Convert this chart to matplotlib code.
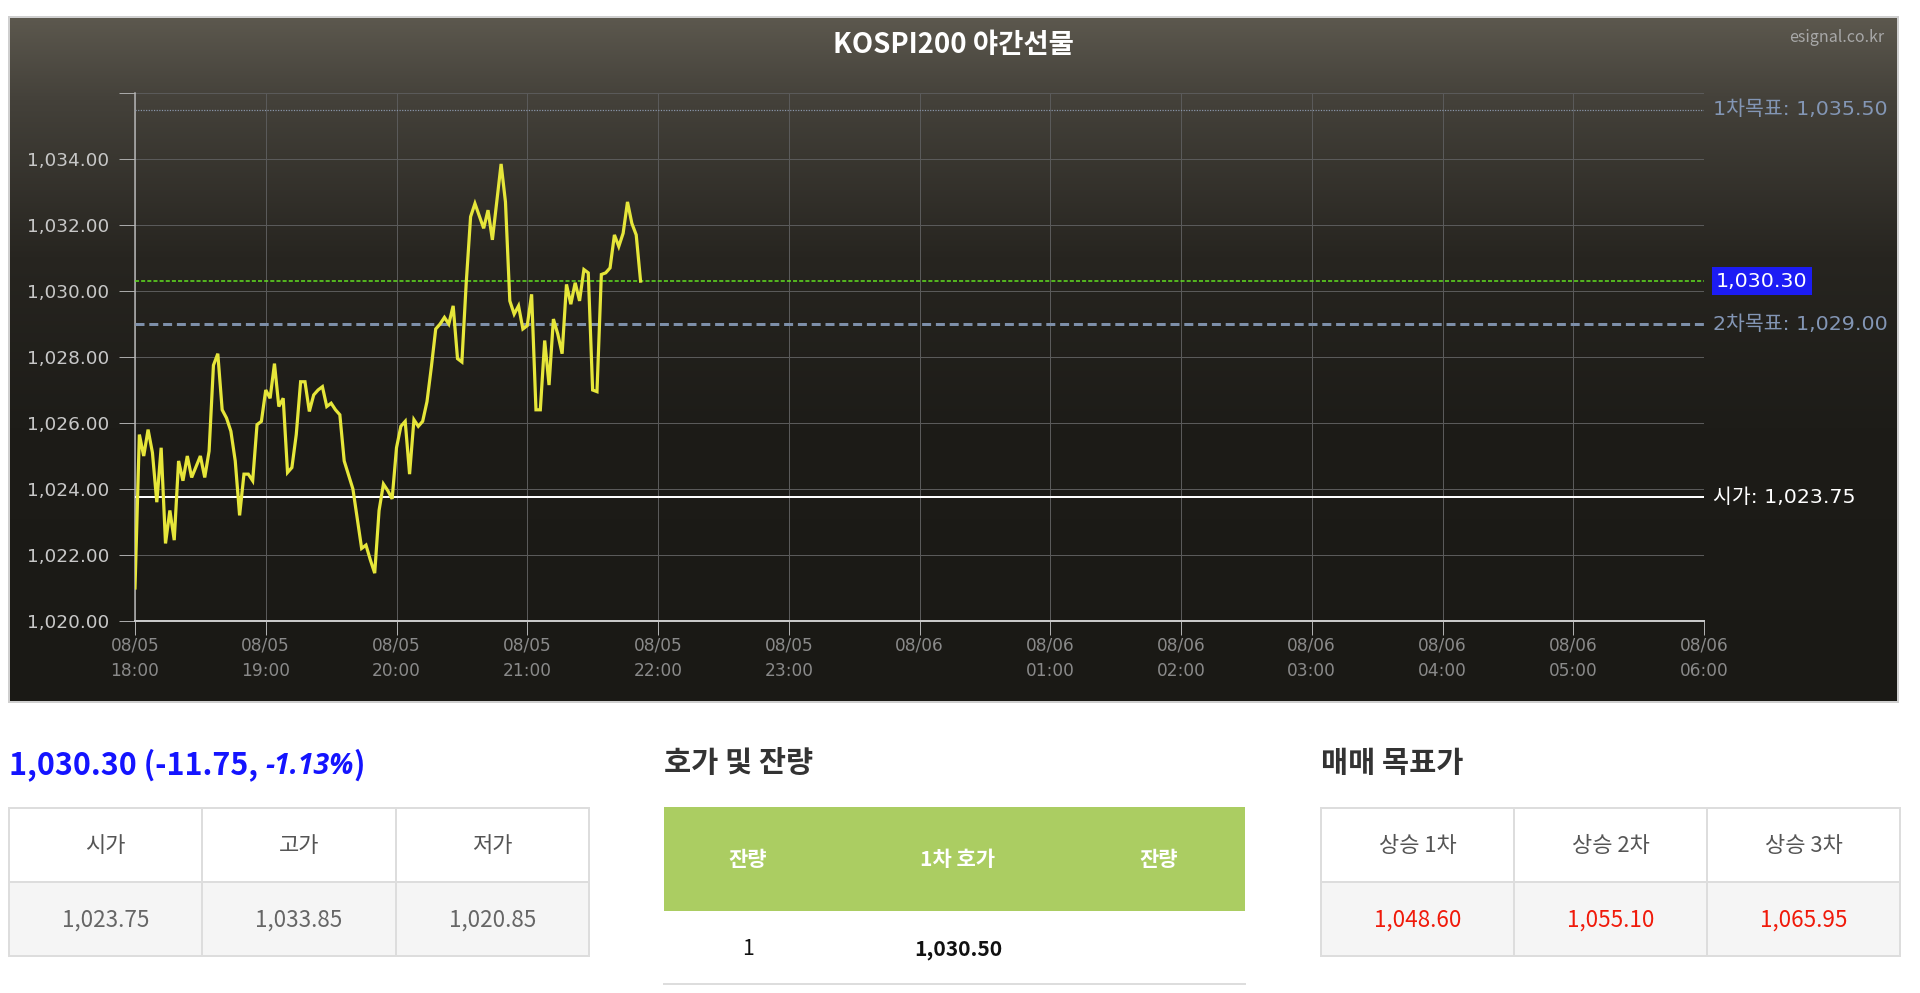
import numpy as np
import matplotlib
matplotlib.use("Agg")
import matplotlib.pyplot as plt
from matplotlib.patches import Rectangle
from matplotlib.transforms import blended_transform_factory
from matplotlib import font_manager as fm

plt.rcParams['font.family'] = ['DejaVu Sans', 'Noto Sans CJK KR']

# ---------------- data ----------------
title = "KOSPI200 야간선물"
source = "esignal.co.kr"

times = ["18:00", "18:02", "18:04", "18:06", "18:08", "18:10", "18:12", "18:14", "18:16", "18:18",
         "18:20", "18:22", "18:24", "18:26", "18:30", "18:32", "18:34", "18:36", "18:38", "18:40",
         "18:42", "18:44", "18:46", "18:48", "18:50", "18:52", "18:54", "18:56", "18:58", "19:00",
         "19:02", "19:04", "19:06", "19:08", "19:10", "19:12", "19:14", "19:16", "19:18", "19:20",
         "19:22", "19:24", "19:26", "19:28", "19:30", "19:32", "19:34", "19:36", "19:40", "19:42",
         "19:44", "19:46", "19:48", "19:50", "19:52", "19:54", "19:56", "19:58", "20:00", "20:02",
         "20:04", "20:06", "20:08", "20:10", "20:12", "20:14", "20:16", "20:18", "20:20", "20:22",
         "20:24", "20:26", "20:28", "20:30", "20:32", "20:34", "20:36", "20:40", "20:42", "20:44",
         "20:48", "20:50", "20:52", "20:54", "20:56", "20:58", "21:00", "21:02", "21:04", "21:06",
         "21:08", "21:10", "21:12", "21:14", "21:16", "21:18", "21:20", "21:22", "21:24", "21:26",
         "21:28", "21:30", "21:32", "21:34", "21:36", "21:38", "21:40", "21:42", "21:44", "21:46",
         "21:48", "21:50", "21:52"]

prices = [1021.00, 1025.65, 1025.00, 1025.80, 1025.10, 1023.60, 1025.25, 1022.35, 1023.35, 1022.45,
          1024.85, 1024.25, 1025.00, 1024.35, 1025.00, 1024.35, 1025.15, 1027.75, 1028.10, 1026.40,
          1026.15, 1025.75, 1024.85, 1023.20, 1024.45, 1024.45, 1024.25, 1025.95, 1026.05, 1027.00,
          1026.75, 1027.80, 1026.50, 1026.75, 1024.50, 1024.65, 1025.65, 1027.25, 1027.25, 1026.35,
          1026.85, 1027.00, 1027.10, 1026.50, 1026.60, 1026.40, 1026.25, 1024.85, 1024.00, 1023.10,
          1022.20, 1022.30, 1021.85, 1021.45, 1023.35, 1024.15, 1023.95, 1023.70, 1025.25, 1025.90,
          1026.05, 1024.45, 1026.10, 1025.90, 1026.05, 1026.65, 1027.70, 1028.85, 1029.00, 1029.20,
          1029.00, 1029.55, 1027.95, 1027.85, 1030.25, 1032.25, 1032.65, 1031.90, 1032.45, 1031.55,
          1033.85, 1032.70, 1029.70, 1029.30, 1029.55, 1028.85, 1028.95, 1029.90, 1026.40, 1026.40,
          1028.50, 1027.15, 1029.15, 1028.70, 1028.10, 1030.20, 1029.60, 1030.25, 1029.70, 1030.65,
          1030.55, 1027.00, 1026.95, 1030.50, 1030.55, 1030.70, 1031.70, 1031.35, 1031.75, 1032.70,
          1032.05, 1031.70, 1030.30]

session_start_hour = 18
x_tick_labels = ["08/05\n18:00", "08/05\n19:00", "08/05\n20:00", "08/05\n21:00", "08/05\n22:00",
                 "08/05\n23:00", "08/06", "08/06\n01:00", "08/06\n02:00", "08/06\n03:00",
                 "08/06\n04:00", "08/06\n05:00", "08/06\n06:00"]
y_ticks = [1020, 1022, 1024, 1026, 1028, 1030, 1032, 1034, 1036]
y_tick_labels = ["1,020.00", "1,022.00", "1,024.00", "1,026.00", "1,028.00", "1,030.00",
                 "1,032.00", "1,034.00", ""]

open_price = 1023.75
target1 = 1035.50
target2 = 1029.00
last_price = 1030.30
change_text = "1,030.30 (-11.75, "
change_pct = "-1.13%"

ohl_headers = ["시가", "고가", "저가"]
ohl_values = ["1,023.75", "1,033.85", "1,020.85"]
book_headers = ["잔량", "1차 호가", "잔량"]
book_row = ["1", "1,030.50", ""]
target_headers = ["상승 1차", "상승 2차", "상승 3차"]
target_values = ["1,048.60", "1,055.10", "1,065.95"]

# ---------------- figure ----------------
W, H = 1920, 993
PX = 0.72  # points per pixel at dpi 100
fig = plt.figure(figsize=(W / 100, H / 100), dpi=100)
fig.patch.set_facecolor("white")

# page overlay in pixel coordinates
pg = fig.add_axes([0, 0, 1, 1], zorder=0)
pg.set_xlim(0, W)
pg.set_ylim(H, 0)
pg.axis("off")

# chart background gradient
bx0, bx1, by0, by1 = 9, 1898, 17, 702
stops = [(0.0, (92, 88, 78)), (0.12, (68, 65, 58)), (0.35, (39, 37, 32)),
         (0.6, (29, 28, 24)), (1.0, (26, 25, 21))]
n = 400
tt = np.linspace(0, 1, n)
grad = np.zeros((n, 2, 3))
for c in range(3):
    grad[:, :, c] = np.interp(tt, [s[0] for s in stops], [s[1][c] / 255 for s in stops])[:, None]
pg.imshow(grad, extent=(bx0, bx1, by1, by0), aspect="auto", interpolation="bilinear", zorder=0)
pg.add_patch(Rectangle((bx0, by0), bx1 - bx0, by1 - by0, fill=False, ec="#cfcfcf", lw=2 * PX, zorder=1))
pg.set_xlim(0, W)
pg.set_ylim(H, 0)

pg.text((bx0 + bx1) / 2, 45, title, color="white", fontsize=27.5 * PX, fontweight="bold",
        family=["Noto Sans CJK KR"], ha="center", va="center")
pg.text(1884, 37, source, color="#a8a8a8", fontsize=16 * PX, ha="right", va="center",
        family=["Noto Sans CJK KR"])

# ---------------- plot axes ----------------
pl, pr, pt_, pb = 135, 1704, 93, 621
ax = fig.add_axes([pl / W, 1 - pb / H, (pr - pl) / W, (pb - pt_) / H], zorder=2)
ax.patch.set_alpha(0)

hours = [int(t[:2]) + int(t[3:]) / 60 - session_start_hour for t in times]
ax.set_xlim(0, len(x_tick_labels) - 1)
ax.set_ylim(y_ticks[0], y_ticks[-1])
ax.set_xticks(range(len(x_tick_labels)))
ax.set_xticklabels(x_tick_labels, linespacing=1.52)
ax.set_yticks(y_ticks)
ax.set_yticklabels(y_tick_labels)
ax.grid(True, color="#5a5a5a", lw=1 * PX, zorder=1)
ax.set_axisbelow(True)
for s in ["top", "right"]:
    ax.spines[s].set_visible(False)
ax.spines["left"].set_color("#b5b5b5")
ax.spines["left"].set_linewidth(1.5 * PX)
ax.spines["bottom"].set_color("#c8c8c8")
ax.spines["bottom"].set_linewidth(2 * PX)
ax.tick_params(axis="y", length=16 * PX, width=1 * PX, color="#a8a8a8", labelcolor="#c8c8c8",
               labelsize=18.5 * PX, pad=10 * PX)
ax.tick_params(axis="x", length=14 * PX, width=1 * PX, color="#b0b0b0", labelcolor="#8a8a8a",
               labelsize=17 * PX, pad=2 * PX)

ax.axhline(target1, color="#8b98ad", lw=1.2 * PX, ls=(0, (1, 1.2)), zorder=3)
ax.axhline(last_price, color="#62e320", lw=1.5 * PX, ls=(0, (2.7, 1.4)), zorder=3)
ax.axhline(target2, color="#7d8fa9", lw=3 * PX, ls=(0, (3, 1.6)), zorder=3)
ax.axhline(open_price, color="white", lw=2 * PX, zorder=3)
ax.plot(hours, prices, color="#e6e63a", lw=3.2 * PX, solid_joinstyle="miter", zorder=5)

tr = blended_transform_factory(ax.transAxes, ax.transData)
lx = 1 + (1713 - pr) / (pr - pl)
lab_size = 20.5 * PX
ax.text(lx, target1, f"1차목표: {target1:,.2f}", transform=tr, color="#8396b5", fontsize=lab_size,
        va="center", ha="left", clip_on=False)
ax.text(lx, target2, f"2차목표: {target2:,.2f}", transform=tr, color="#8396b5", fontsize=lab_size,
        va="center", ha="left", clip_on=False)
ax.text(lx, open_price, f"시가: {open_price:,.2f}", transform=tr, color="white", fontsize=lab_size,
        va="center", ha="left", clip_on=False)
ax.text(1 + (1716 - pr) / (pr - pl), last_price, f"{last_price:,.2f}", transform=tr, color="white",
        fontsize=lab_size, va="center", ha="left", clip_on=False,
        bbox=dict(boxstyle="square,pad=0.2", fc="#1c1cf5", ec="none"))

# ---------------- lower panels ----------------
kr = ["Noto Sans CJK KR"]


def italic_family():
    for fam in ["Noto Sans", "Open Sans", "Roboto", "Lato", "DejaVu Sans"]:
        try:
            f = fm.findfont(fm.FontProperties(family=fam, style="italic", weight="bold"),
                            fallback_to_default=False)
        except Exception:
            continue
        name = f.lower()
        if ("italic" in name or "oblique" in name) and "bold" in name:
            return [fam]
    return ["DejaVu Sans"]


ital = italic_family()
big = 30.5 * PX
t1 = pg.text(9, 765, change_text, color="#1414ff", fontsize=big, fontweight="bold",
             family=kr, ha="left", va="center")
t2 = pg.annotate(change_pct, xy=(1, 0), xycoords=t1, color="#1414ff", fontsize=big * 0.93,
                 fontweight="bold", fontstyle="italic", family=ital,
                 ha="left", va="bottom")
pg.annotate(")", xy=(1, 0), xycoords=t2, color="#1414ff", fontsize=big, fontweight="bold",
            family=kr, ha="left", va="bottom")

pg.text(664, 763, "호가 및 잔량", color="#333333", fontsize=29.5 * PX, fontweight="bold",
        family=kr, ha="left", va="center")
pg.text(1321, 763, "매매 목표가", color="#333333", fontsize=29.5 * PX, fontweight="bold",
        family=kr, ha="left", va="center")


def table(x0, x1, headers, values, vcolor):
    top, mid, bot = 808, 882, 956
    pg.add_patch(Rectangle((x0, mid), x1 - x0, bot - mid, fc="#f5f5f5", ec="none", zorder=1))
    xs = np.linspace(x0, x1, len(headers) + 1)
    for yy in (top, mid, bot):
        pg.plot([x0, x1], [yy, yy], color="#dddddd", lw=2 * PX, zorder=2)
    for xx in xs:
        pg.plot([xx, xx], [top, bot], color="#dddddd", lw=2 * PX, zorder=2)
    for i, (h, v) in enumerate(zip(headers, values)):
        cx = (xs[i] + xs[i + 1]) / 2
        pg.text(cx, 846, h, color="#555555", fontsize=22 * PX, family=kr, ha="center", va="center", zorder=3)
        pg.text(cx, 920, v, color=vcolor, fontsize=22.5 * PX, family=kr, ha="center", va="center", zorder=3)


table(9, 589, ohl_headers, ohl_values, "#666666")
table(1321, 1900, target_headers, target_values, "#f01a0a")

# order book
pg.add_patch(Rectangle((664, 807), 1245 - 664, 911 - 807, fc="#abcd62", ec="none", zorder=1))
book_cx = [748, 958, 1159]
for cx, h, v in zip(book_cx, book_headers, book_row):
    pg.text(cx, 860, h, color="white", fontsize=21 * PX, fontweight="bold", family=kr,
            ha="center", va="center", zorder=3)
    pg.text(cx, 949, v, color="#111111", fontsize=21 * PX,
            fontweight="bold" if "," in v else "normal", family=kr, ha="center", va="center", zorder=3)
pg.plot([664, 1245], [984, 984], color="#dddddd", lw=2 * PX, zorder=2)

pg.set_xlim(0, W)
pg.set_ylim(H, 0)
fig.savefig("out.png", dpi=100, facecolor="white")
